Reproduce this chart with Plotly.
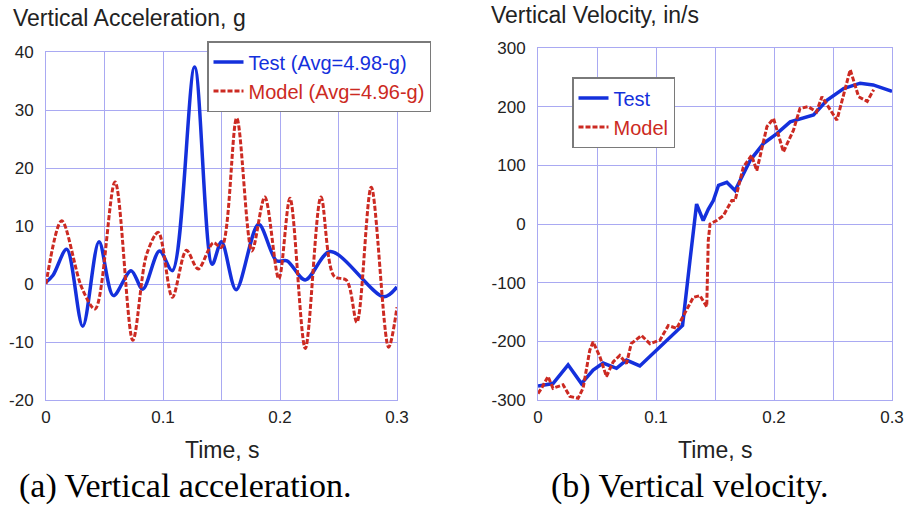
import plotly.graph_objects as go

# ---- data: vertical acceleration (g) ----
acc_test_t = [0, 0.006, 0.0177, 0.0314, 0.0453, 0.0576, 0.0727, 0.0827, 0.097, 0.108,
              0.127, 0.142, 0.150, 0.1625, 0.1817, 0.197, 0.206, 0.2216, 0.243, 0.2886, 0.3]
acc_test_v = [0.3, 1.5, 6.0, -7.3, 7.3, -2.0, 2.3, -0.9, 5.7, 2.3,
              37.4, 3.4, 7.3, -1.0, 10.3, 4.0, 4.0, 0.7, 5.6, -2.2, -0.5]

acc_model_t = [0, 0.0134, 0.0305, 0.042, 0.059, 0.0742, 0.086, 0.096, 0.108, 0.120,
               0.130, 0.143, 0.150, 0.163, 0.176, 0.187, 0.199, 0.2085, 0.2216, 0.235,
               0.246, 0.257, 0.2657, 0.278, 0.2928, 0.3]
acc_model_v = [0, 10.9, -0.6, -4.3, 17.6, -9.7, 5.1, 8.9, -2.3, 5.8,
               2.6, 7.1, 6.3, 28.6, 5.7, 15.0, 0.9, 14.8, -11.1, 15.0,
               1.4, 0.6, -6.6, 16.7, -10.9, -4.0]

# ---- data: vertical velocity (in/s) ----
vel_test_t = [0, 0.0127, 0.0255, 0.0368, 0.0467, 0.0552, 0.0665, 0.075, 0.0863, 0.1033,
              0.1225, 0.1288, 0.1344, 0.140, 0.1443, 0.1486, 0.153, 0.160, 0.167, 0.180,
              0.191, 0.2024, 0.2137, 0.2335, 0.2448, 0.259, 0.273, 0.284, 0.3]
vel_test_v = [-276, -272, -240, -272, -249, -237, -246, -232, -242, -209,
              -173, -62, 34, 6, 25, 40, 66, 71, 57, 109,
              137, 154, 174, 186, 211, 231, 240, 237, 226]

vel_model_t = [0, 0.003, 0.0085, 0.0127, 0.0212, 0.027, 0.034, 0.0382, 0.0439, 0.0467,
               0.0524, 0.058, 0.0637, 0.0693, 0.075, 0.079, 0.0877, 0.0948, 0.1033, 0.1104,
               0.1175, 0.1231, 0.1316, 0.1373, 0.143, 0.1443, 0.1458, 0.1514, 0.157, 0.1642,
               0.167, 0.174, 0.181, 0.1854, 0.194, 0.1996, 0.208, 0.2165, 0.222, 0.229,
               0.236, 0.2406, 0.2533, 0.2646, 0.2717, 0.279, 0.2845]
vel_model_v = [-289, -280, -260, -280, -274, -294, -297, -280, -215, -201,
               -226, -260, -235, -224, -238, -204, -190, -204, -198, -173,
               -178, -156, -125, -122, -141, -28, 0, 6, 14, 40,
               40, 97, 117, 91, 166, 180, 123, 160, 197, 200,
               191, 217, 177, 263, 217, 209, 229]

x_ticks = [0, 0.1, 0.2, 0.3]
x_labels = ["0", "0.1", "0.2", "0.3"]
acc_ticks = [-20, -10, 0, 10, 20, 30, 40]
acc_labels = ["-20", "-10", "0", "10", "20", "30", "40"]
vel_ticks = [-300, -200, -100, 0, 100, 200, 300]
vel_labels = ["-300", "-200", "-100", "0", "100", "200", "300"]

BLUE = "#1430dc"
RED = "#cc2a22"
GRID = "#a9a9f2"
SANS = "Arial, Liberation Sans"
TICKFONT = dict(family=SANS, size=17, color="#222222")

fig = go.Figure()
fig.add_trace(go.Scatter(x=acc_test_t, y=acc_test_v, mode="lines",
                         line=dict(color=BLUE, width=3.5, shape="spline", smoothing=0.9),
                         name=f'<span style="color:{BLUE}">Test (Avg=4.98-g)</span>',
                         xaxis="x", yaxis="y", legend="legend"))
fig.add_trace(go.Scatter(x=acc_model_t, y=acc_model_v, mode="lines",
                         line=dict(color=RED, width=3, dash="5px,2px", shape="spline", smoothing=0.9),
                         name=f'<span style="color:{RED}">Model (Avg=4.96-g)</span>',
                         xaxis="x", yaxis="y", legend="legend"))
fig.add_trace(go.Scatter(x=vel_test_t, y=vel_test_v, mode="lines",
                         line=dict(color=BLUE, width=3.5),
                         name=f'<span style="color:{BLUE}">Test</span>',
                         xaxis="x2", yaxis="y2", legend="legend2"))
fig.add_trace(go.Scatter(x=vel_model_t, y=vel_model_v, mode="lines",
                         line=dict(color=RED, width=3, dash="5px,2px"),
                         name=f'<span style="color:{RED}">Model</span>',
                         xaxis="x2", yaxis="y2", legend="legend2"))

W, H = 906, 507
def px(x):
    return x / W
def py(y):
    return 1 - y / H

xax_common = dict(range=[0, 0.3], tickvals=x_ticks, ticktext=x_labels,
                  showgrid=True, gridcolor=GRID, gridwidth=1,
                  minor=dict(dtick=0.05, tick0=0, showgrid=True, gridcolor=GRID, gridwidth=1),
                  showline=True, linecolor=GRID, linewidth=1, mirror=True, automargin=False,
                  zeroline=False, ticks="", tickfont=TICKFONT, ticklabelstandoff=2)
yax_common = dict(showgrid=True, gridcolor=GRID, gridwidth=1,
                  showline=True, linecolor=GRID, linewidth=1, mirror=True, automargin=False,
                  zeroline=False, ticks="", tickfont=TICKFONT, ticklabelstandoff=8)

LEGFONT = dict(family=SANS, size=20)
fig.update_layout(
    width=W, height=H,
    margin=dict(l=0, r=0, t=0, b=0, autoexpand=False),
    paper_bgcolor="white", plot_bgcolor="white",
    xaxis=dict(domain=[px(46), px(397)], anchor="y", **xax_common),
    yaxis=dict(domain=[py(400), py(52)], anchor="x", range=[-20, 40],
               tickvals=acc_ticks, ticktext=acc_labels, **yax_common),
    xaxis2=dict(domain=[px(538), px(892)], anchor="y2", **xax_common),
    yaxis2=dict(domain=[py(400), py(48)], anchor="x2", range=[-300, 300],
                tickvals=vel_ticks, ticktext=vel_labels, **yax_common),
    legend=dict(x=px(207), y=py(41), xanchor="left", yanchor="top",
                bgcolor="white", bordercolor="#7a7a7a", borderwidth=1.5,
                font=LEGFONT, tracegroupgap=0, itemwidth=30),
    legend2=dict(x=px(572), y=py(77), xanchor="left", yanchor="top",
                 bgcolor="white", bordercolor="#7a7a7a", borderwidth=1.5,
                 font=LEGFONT, tracegroupgap=0, itemwidth=30),
    showlegend=True,
)

annos = [
    dict(text="Vertical Acceleration, g", x=px(11), y=py(18), xanchor="left", yanchor="middle",
         font=dict(family=SANS, size=23, color="#222222")),
    dict(text="Vertical Velocity, in/s", x=px(489), y=py(15), xanchor="left", yanchor="middle",
         font=dict(family=SANS, size=23, color="#222222")),
    dict(text="Time, s", x=px(222), y=py(450), xanchor="center", yanchor="middle",
         font=dict(family=SANS, size=23, color="#222222")),
    dict(text="Time, s", x=px(715), y=py(450), xanchor="center", yanchor="middle",
         font=dict(family=SANS, size=23, color="#222222")),
    dict(text="(a) Vertical acceleration.", x=px(185), y=py(486), xanchor="center", yanchor="middle",
         font=dict(family="Times New Roman, Liberation Serif", size=34, color="#000000")),
    dict(text="(b) Vertical velocity.", x=px(690), y=py(486), xanchor="center", yanchor="middle",
         font=dict(family="Times New Roman, Liberation Serif", size=34, color="#000000")),
]
for a in annos:
    fig.add_annotation(xref="paper", yref="paper", showarrow=False, **a)

fig.write_html("out.html")
